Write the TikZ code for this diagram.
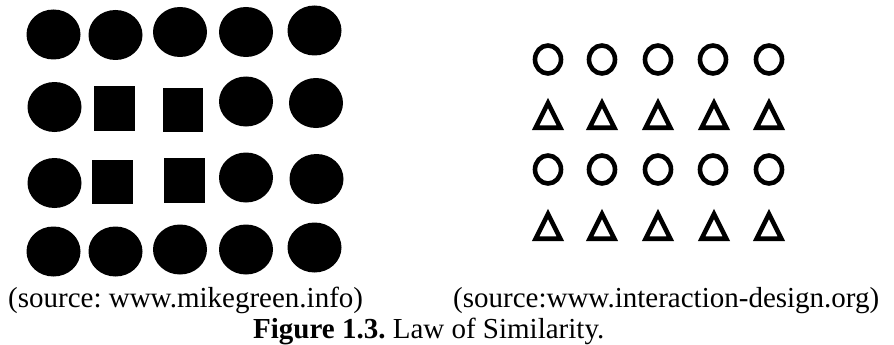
\documentclass[tikz,border=0pt]{standalone}
\usepackage{fontspec}
\setmainfont{Liberation Serif}
\frenchspacing
\begin{document}
\begin{tikzpicture}[x=1pt,y=-1pt,
  dot/.style={fill=black},
  block/.style={fill=black},
  ring/.style={draw=black,line width=4.6pt},
  tri/.style={draw=black,line width=4.6pt,line join=miter},
  caption/.style={anchor=base west,inner sep=0pt,font=\fontsize{29}{32}\selectfont}]
\useasboundingbox (0,0) rectangle (894,345);

% left panel: filled discs
\foreach \x/\y in {53.5/34.5, 115.5/35, 180/32, 246/32, 314.5/30.5,
                   54.5/107, 246/101.5, 316/103,
                   54.5/183, 246/177.5, 316.5/179,
                   53.5/251.5, 115.5/251.5, 180/249.5, 246/249.5, 314.5/247.5}
  \fill[dot] (\x,\y) ellipse [x radius=27, y radius=25];

% left panel: filled squares
\fill[block] (94,86) rectangle (135,131);
\fill[block] (163,88) rectangle (203,132);
\fill[block] (92,160) rectangle (133,204);
\fill[block] (164,158) rectangle (205,203);

% right panel: rings
\foreach \x in {548,602,658,713,769}
  \foreach \y in {59.5,169.5}
    \draw[ring] (\x,\y) ellipse [x radius=13, y radius=14];

% right panel: outlined triangles (\b = outer base line)
\foreach \x in {548,602,658,714,769}
  \foreach \b in {130,241}
    \draw[tri] (\x-12.36,\b-2.25) -- (\x+12.36,\b-2.25) -- (\x,\b-26.96) -- cycle;

% captions
\node[caption] (srcL) at (8,307) {(source: www.mikegreen.info)};
\node[caption] (srcR) at (453,307) {(source:www.interaction-design.org)};
\node[caption] (fig) at (253,338) {\textbf{Figure 1.3.} Law of Similarity.};
\end{tikzpicture}
\end{document}
